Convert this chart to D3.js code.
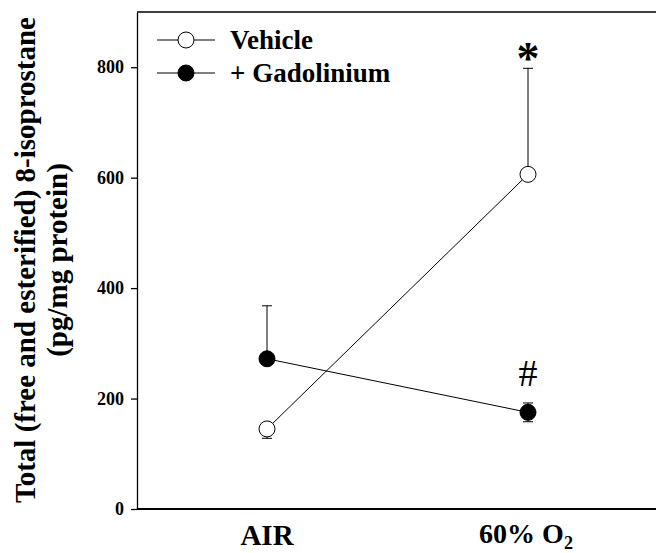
<!DOCTYPE html>
<html>
<head>
<meta charset="utf-8">
<script src="https://cdn.jsdelivr.net/npm/d3@7"></script>
<style>
  body { margin: 0; background: #fff; }
  text { font-family: "Liberation Serif", "Times New Roman", serif; font-weight: bold; fill: #000; }
</style>
</head>
<body>
<div id="chart"></div>
<script>
var groups = ["AIR", "60% O2"];
var vehicleMean = [145, 606];
var vehicleSE = [17, 192];
var gadMean = [272, 175];
var gadSE = [96, 17];
var yTicks = [0, 200, 400, 600, 800];

var width = 656, height = 553;
var margin = { top: 12, right: 0, bottom: 44, left: 137 };

var svg = d3.select("#chart").append("svg")
  .attr("width", width).attr("height", height);

var x = d3.scalePoint().domain(groups)
  .range([margin.left + 130, margin.left + 391]);
var y = d3.scaleLinear().domain([0, 900])
  .range([height - margin.bottom, margin.top]);

// frame
svg.append("line").attr("x1", margin.left).attr("x2", width)
  .attr("y1", y(900)).attr("y2", y(900)).attr("stroke", "#000").attr("stroke-width", 1.5);

var yAxis = svg.append("g")
  .attr("transform", "translate(" + margin.left + ",0)")
  .call(d3.axisLeft(y).tickValues(yTicks).tickSize(6).tickSizeOuter(0));
yAxis.select(".domain").attr("stroke-width", 1.3);
yAxis.selectAll(".tick line").attr("stroke-width", 1.3);
yAxis.selectAll("text").style("font-size", "18px").attr("dx", "-4px");

svg.append("line").attr("x1", margin.left).attr("x2", width)
  .attr("y1", y(0)).attr("y2", y(0)).attr("stroke", "#000").attr("stroke-width", 2);

// x labels
svg.append("text").attr("x", x("AIR")).attr("y", 545)
  .attr("text-anchor", "middle").style("font-size", "29px").text("AIR");
var o2 = svg.append("text").attr("x", x("60% O2") - 2).attr("y", 543)
  .attr("text-anchor", "middle").style("font-size", "28px");
o2.append("tspan").text("60% O");
o2.append("tspan").attr("dy", "6").style("font-size", "18px").text("2");

// y label
var yl = svg.append("text").attr("transform", "translate(35,260) rotate(-90)")
  .attr("text-anchor", "middle").style("font-size", "29px");
yl.append("tspan").attr("x", 0).attr("dy", 0).text("Total (free and esterified) 8-isoprostane");
yl.append("tspan").attr("x", 0).attr("dy", 32).text("(pg/mg protein)");

function series(mean, se, fill, dir) {
  var pts = groups.map(function(g, i) { return { g: g, m: mean[i], s: se[i], d: dir[i] }; });
  var line = d3.line().x(function(d) { return x(d.g); }).y(function(d) { return y(d.m); });
  svg.append("path").datum(pts).attr("d", line)
    .attr("fill", "none").attr("stroke", "#000").attr("stroke-width", 1);
  var eb = svg.append("g").selectAll("g").data(pts).enter().append("g");
  eb.each(function(d) {
    var g = d3.select(this);
    d.d.forEach(function(sg) {
      var end = d.m + sg * d.s;
      g.append("line").attr("x1", x(d.g)).attr("x2", x(d.g))
        .attr("y1", y(d.m)).attr("y2", y(end)).attr("stroke", "#000").attr("stroke-width", 1);
      g.append("line").attr("x1", x(d.g) - 5).attr("x2", x(d.g) + 5)
        .attr("y1", y(end)).attr("y2", y(end)).attr("stroke", "#000").attr("stroke-width", 1);
    });
  });
  svg.append("g").selectAll("circle").data(pts).enter().append("circle")
    .attr("cx", function(d) { return x(d.g); })
    .attr("cy", function(d) { return y(d.m); })
    .attr("r", 8).attr("fill", fill).attr("stroke", "#000").attr("stroke-width", 1);
}

series(vehicleMean, vehicleSE, "#fff", [[-1], [1]]);
series(gadMean, gadSE, "#000", [[1], [1, -1]]);

// significance marks
svg.append("text").attr("x", x("60% O2")).attr("y", y(vehicleMean[1] + vehicleSE[1]) + 6)
  .attr("text-anchor", "middle").style("font-size", "46px").text("*");
svg.append("text").attr("x", x("60% O2")).attr("y", y(gadMean[1] + gadSE[1]) - 17)
  .attr("text-anchor", "middle").style("font-size", "38px").style("font-weight", "normal").text("#");

// legend
var legend = [{ name: "Vehicle", fill: "#fff" }, { name: "+ Gadolinium", fill: "#000" }];
var lg = svg.append("g").selectAll("g").data(legend).enter().append("g")
  .attr("transform", function(d, i) { return "translate(157," + (40 + i * 33) + ")"; });
lg.append("line").attr("x1", 0).attr("x2", 58).attr("stroke", "#000").attr("stroke-width", 1);
lg.append("circle").attr("cx", 29).attr("r", 8).attr("fill", function(d) { return d.fill; })
  .attr("stroke", "#000");
lg.append("text").attr("x", 73).attr("y", 9).style("font-size", "27px").text(function(d) { return d.name; });
</script>
</body>
</html>
